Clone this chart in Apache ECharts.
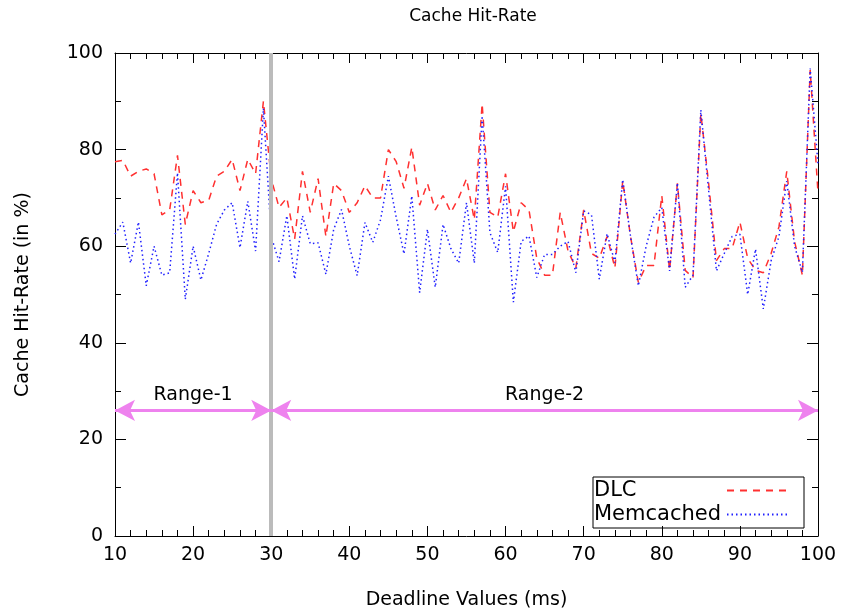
<!DOCTYPE html>
<html><head><meta charset="utf-8">
<script src="https://cdn.jsdelivr.net/npm/echarts@6/dist/echarts.min.js"></script>
<style>html,body{margin:0;padding:0;background:#fff}#c{width:843px;height:615px}</style>
</head><body><div id="c"></div>
<script>
const deadlines = [10,11,12,13,14,15,16,17,18,19,20,21,22,23,24,25,26,27,28,29,30,31,32,33,34,35,36,37,38,39,40,41,42,43,44,45,46,47,48,49,50,51,52,53,54,55,56,57,58,59,60,61,62,63,64,65,66,67,68,69,70,71,72,73,74,75,76,77,78,79,80,81,82,83,84,85,86,87,88,89,90,91,92,93,94,95,96,97,98,99,100];
const dlc = [77.5,77.8,74.5,75.5,76,75,66.5,67.5,78.8,64.5,71.5,69,69.5,74.5,75.5,78,71.5,78,75,90,74,68,70,61.5,75.5,67,74,62,73,71.5,67,69,72.5,70,70,80,77.5,72,80.5,68.5,73,67.5,70.5,67,70,74,65.5,89.5,67,66,75,63,69,67.5,57.5,54,54,67,59,55.5,67.5,58.5,57.5,62,55.5,73.5,62,52.5,56,56,70.5,55,73,55,53.5,87.5,73,57,59.5,59.5,65,57.5,55,54.5,58.5,64,75.5,61,54,96.5,71];
const memcached = [62.5,65,56.5,65,51.8,60,54,54.5,75.2,49,60,53,58.5,64.5,67.5,69,59.7,69.3,59,88.5,62,56.8,66.3,53.2,66.3,60.5,60.7,54.2,63.5,67.6,60,53.9,64.9,60.8,65.5,74.5,66,58.4,70.4,50.4,63.5,51.5,64.5,59.5,56.5,69,56.5,87,62.8,58.7,72.4,48.4,61,62.1,53.5,58.3,58.3,60,61,54.5,67.3,66.5,53.2,62.6,56.6,73.8,62,51.8,60,66,68,54.9,73.1,51.5,54,88.2,71.5,54.9,58.5,62,62.5,50,59.4,47,57,62,73.5,60,54.6,96.8,77];
const rangeBounds = [10, 30, 100];
const rangeNames = ['Range-1', 'Range-2'];
const arrowLevel = 26;
const dividerX = 30;

const FONT = 'DejaVu Sans';
const pairs = ys => deadlines.map((x, i) => [x, ys[i]]);

function xAxisDef(pos, labels) {
  return {
    type: 'value', min: 10, max: 100, interval: 10, position: pos,
    axisLine: { show: true, onZero: false, lineStyle: { color: '#000', width: 1 } },
    axisTick: { show: true, inside: true, length: 10, lineStyle: { color: '#000' } },
    minorTick: { show: true, splitNumber: 5, length: 6, lineStyle: { color: '#000' } },
    axisLabel: { show: labels, fontSize: 19, color: '#000', margin: 10, fontFamily: FONT },
    splitLine: { show: false },
    name: labels ? 'Deadline Values (ms)' : '', nameLocation: 'middle', nameGap: 55,
    nameTextStyle: { fontSize: 19, color: '#000', fontFamily: FONT }
  };
}
function yAxisDef(pos, labels) {
  return {
    type: 'value', min: 0, max: 100, interval: 20, position: pos,
    axisLine: { show: true, onZero: false, lineStyle: { color: '#000', width: 1 } },
    axisTick: { show: true, inside: true, length: 11, lineStyle: { color: '#000' } },
    minorTick: { show: true, splitNumber: 2, length: 6, lineStyle: { color: '#000' } },
    axisLabel: { show: labels, fontSize: 19, color: '#000', margin: 12, fontFamily: FONT },
    splitLine: { show: false },
    name: labels ? 'Cache Hit-Rate (in %)' : '', nameLocation: 'middle', nameGap: 82,
    nameTextStyle: { fontSize: 19, color: '#000', fontFamily: FONT }
  };
}

const chart = echarts.init(document.getElementById('c'), null, { renderer: 'canvas' });
chart.setOption({
  animation: false,
  backgroundColor: '#fff',
  title: {
    text: 'Cache Hit-Rate', left: 468, top: 3, textAlign: 'center',
    textStyle: { fontSize: 17, fontWeight: 'normal', color: '#000', fontFamily: FONT }
  },
  grid: { left: 115, right: 25, top: 53, bottom: 77 },
  xAxis: [xAxisDef('bottom', true), xAxisDef('top', false)],
  yAxis: [yAxisDef('left', true), yAxisDef('right', false)],
  legend: {
    left: 593, top: 477, orient: 'vertical', align: 'right',
    padding: [3, 14, 3, 1], itemGap: 3, itemWidth: 62, itemHeight: 14,
    borderColor: '#000', borderWidth: 1,
    itemStyle: { color: 'rgba(0,0,0,0)', borderWidth: 0, opacity: 0 },
    formatter: name => '{t|' + name + '}',
    textStyle: {
      fontSize: 21, color: '#000', fontFamily: FONT,
      rich: { t: { width: 128, align: 'left', fontSize: 21, color: '#000', fontFamily: FONT } }
    },
    data: ['DLC', 'Memcached']
  },
  series: [
    {
      name: 'divider', type: 'line', data: [], z: 1, silent: true,
      markLine: {
        silent: true, symbol: 'none', animation: false,
        lineStyle: { color: '#bbbbbb', width: 4, type: 'solid' },
        label: { show: false },
        data: [[{ coord: [dividerX, 0] }, { coord: [dividerX, 100] }]]
      }
    },
    {
      name: 'ranges', type: 'line', data: [], z: 1, silent: true,
      markLine: {
        silent: true, symbol: ['arrow', 'arrow'], symbolSize: [16, 20], animation: false,
        lineStyle: { color: '#ee82ee', width: 3, type: 'solid' },
        label: { show: true, position: 'insideMiddleTop', distance: 6, fontSize: 19, color: '#000', fontFamily: FONT },
        data: rangeNames.map((n, i) => [
          { coord: [rangeBounds[i], arrowLevel], name: n, label: { formatter: n } },
          { coord: [rangeBounds[i + 1], arrowLevel] }
        ])
      }
    },
    {
      name: 'DLC', type: 'line', data: pairs(dlc), showSymbol: false, symbol: 'none', z: 3,
      lineStyle: { color: '#ff3030', width: 1.5, type: [7, 6] },
      itemStyle: { color: '#ff3030' }
    },
    {
      name: 'Memcached', type: 'line', data: pairs(memcached), showSymbol: false, symbol: 'none', z: 4,
      lineStyle: { color: '#2020ff', width: 1.5, type: [1.5, 3] },
      itemStyle: { color: '#2020ff' }
    }
  ]
});
</script></body></html>
